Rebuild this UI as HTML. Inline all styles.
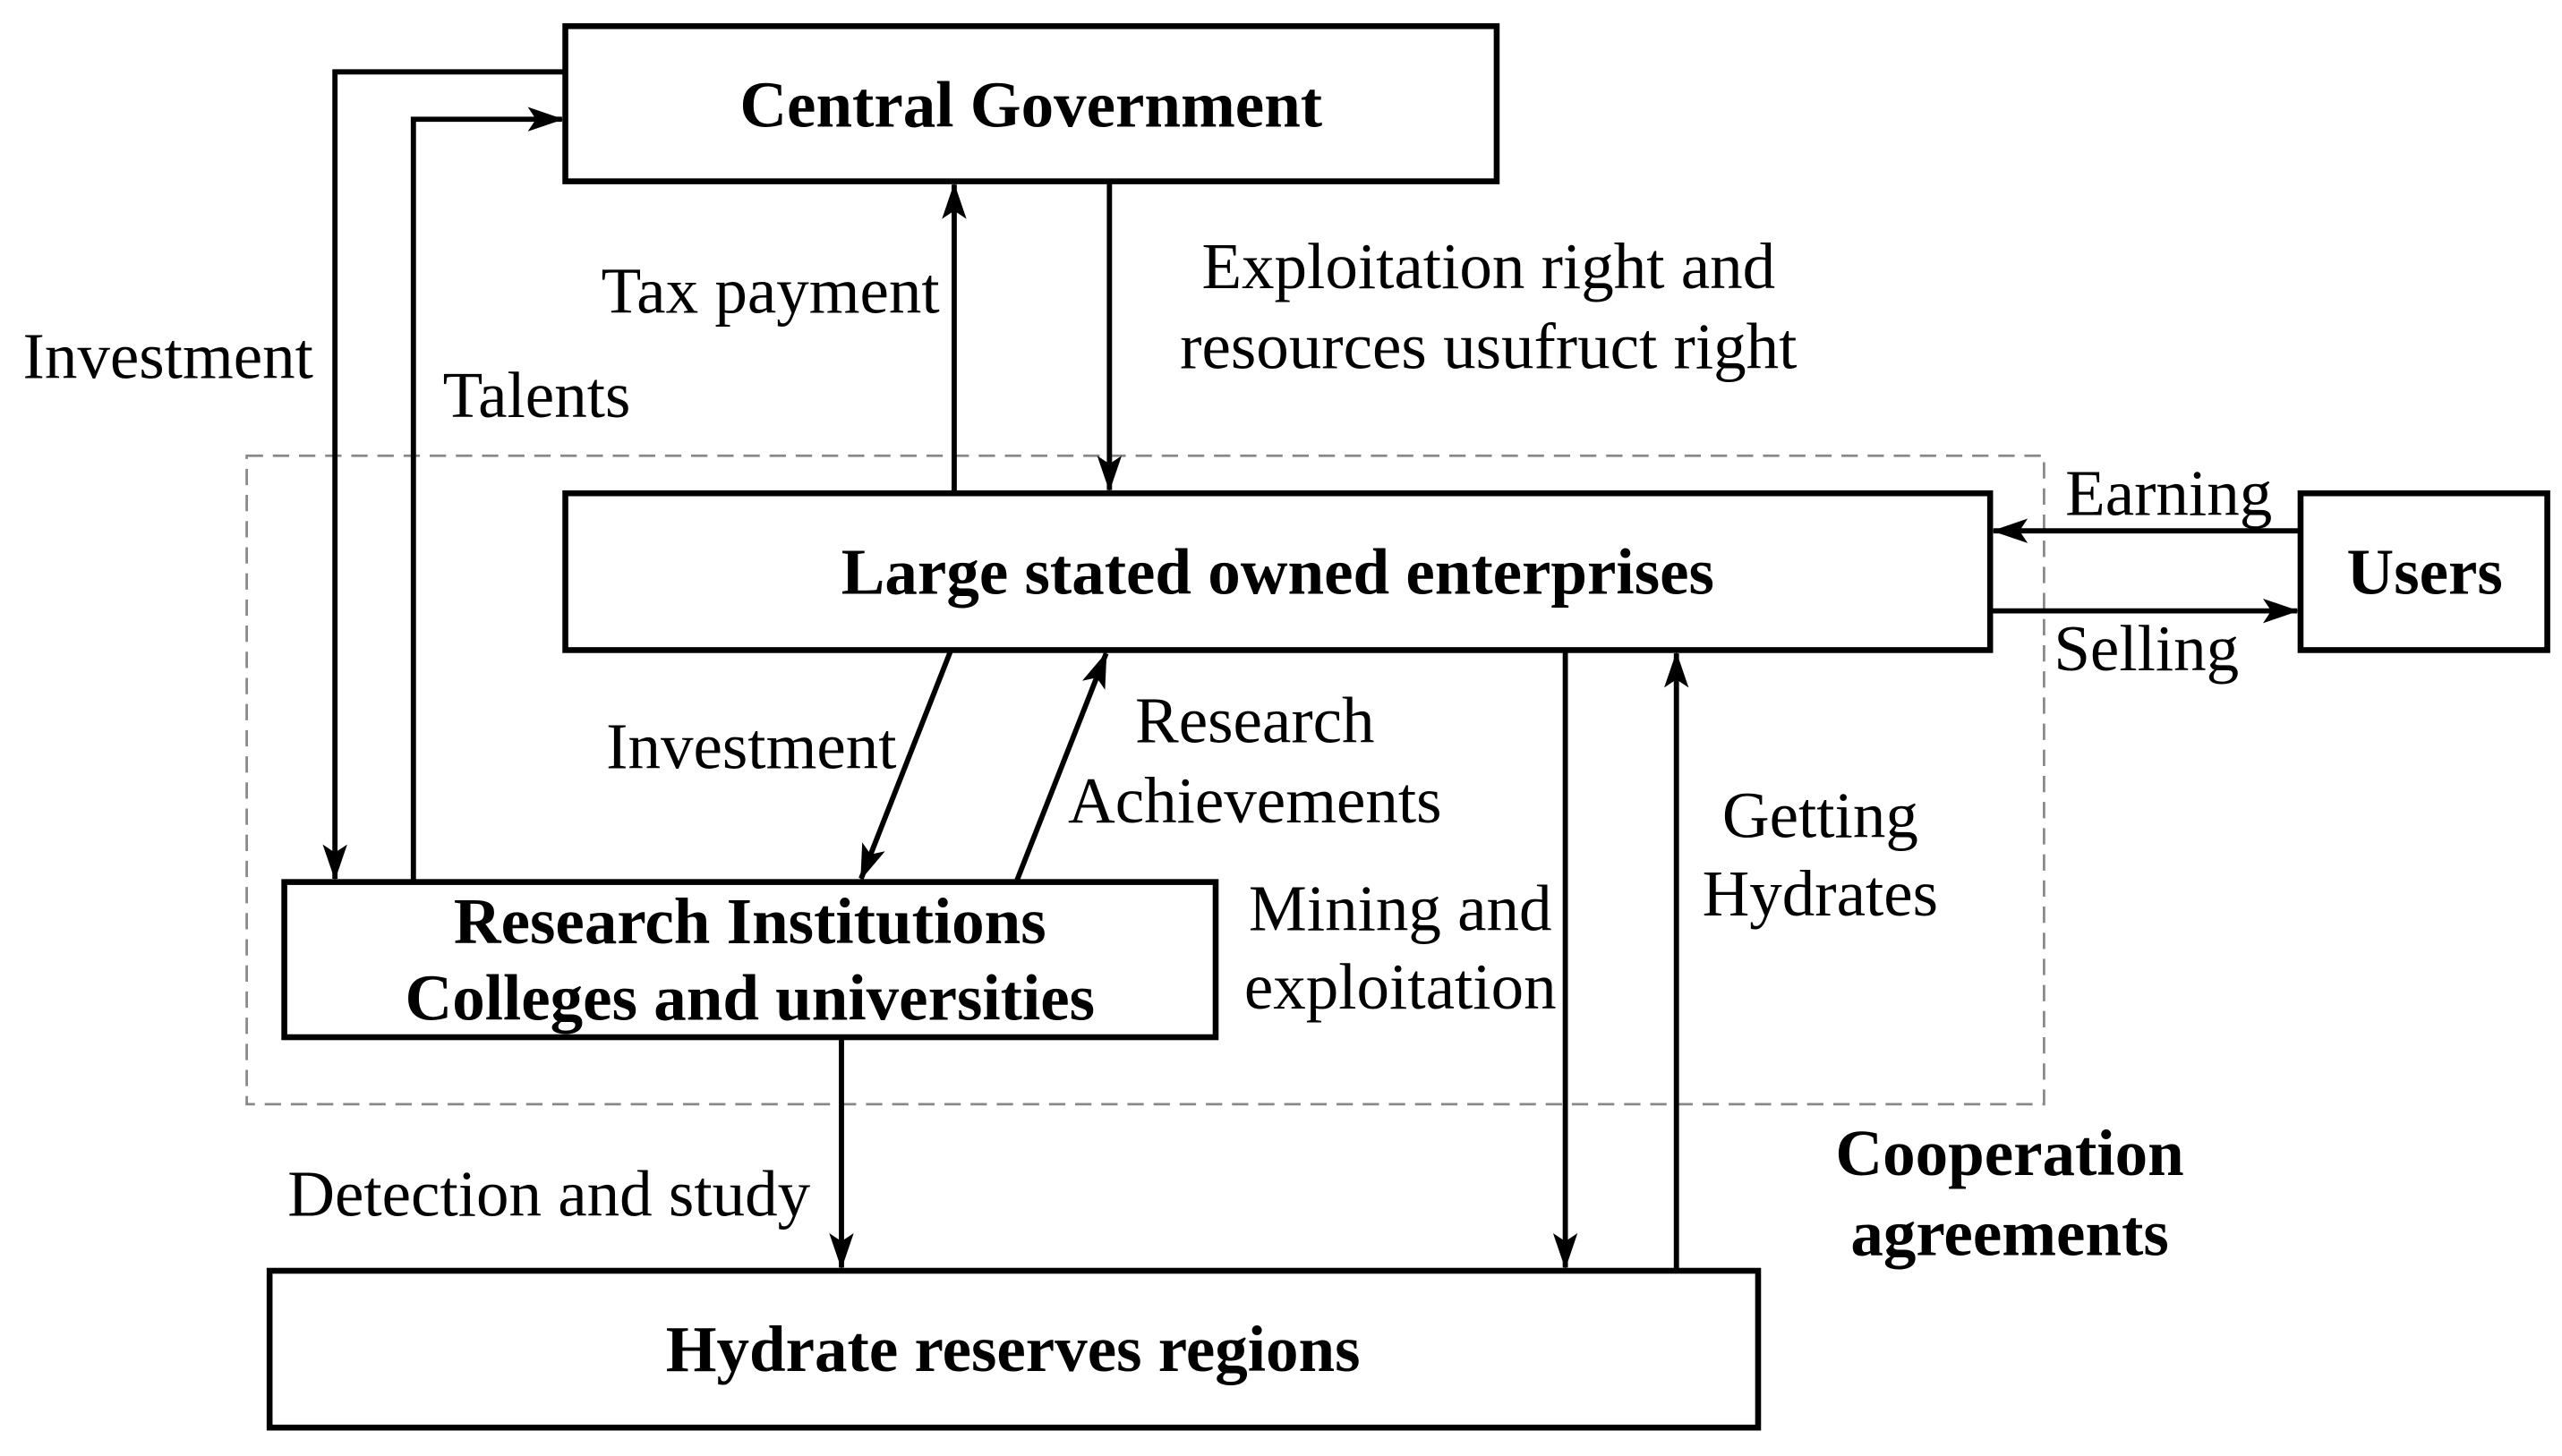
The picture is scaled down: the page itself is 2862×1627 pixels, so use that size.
<!DOCTYPE html>
<html><head><meta charset="utf-8"><style>html,body{margin:0;padding:0;background:#fff}svg{display:block}</style></head>
<body>
<svg width="2862" height="1627" viewBox="0 0 1568 891.4" preserveAspectRatio="none" xmlns="http://www.w3.org/2000/svg" font-family="'Liberation Serif', serif">
<defs>
<marker id="a" viewBox="-22 -8 24 16" refX="0" refY="0" markerWidth="24" markerHeight="16" markerUnits="userSpaceOnUse" orient="auto">
<path d="M-21,-7.5 L1,0 L-21,7.5 L-16,0 z" fill="#000"/>
</marker>
</defs>
<rect x="151" y="279" width="1100" height="397" fill="none" stroke="#888" stroke-width="1.5" stroke-dasharray="10,6"/>
<g fill="#fff" stroke="#000" stroke-width="3.6">
<rect x="346" y="16" width="570" height="95"/>
<rect x="346" y="302" width="872" height="96"/>
<rect x="1408" y="302" width="151" height="96"/>
<rect x="174" y="540" width="570" height="95"/>
<rect x="165" y="778" width="911" height="96"/>
</g>
<g fill="none" stroke="#000" stroke-width="3.2" marker-end="url(#a)">
<polyline points="346,44 205,44 205,538"/>
<polyline points="253,540 253,73 344,73"/>
<line x1="584" y1="302" x2="584" y2="113"/>
<line x1="679" y1="111" x2="679" y2="300"/>
<line x1="582" y1="398" x2="527" y2="538"/>
<line x1="622" y1="540" x2="677" y2="400"/>
<line x1="958" y1="398" x2="958" y2="776"/>
<line x1="1026" y1="778" x2="1026" y2="400"/>
<line x1="1408" y1="325" x2="1220" y2="325"/>
<line x1="1218" y1="374" x2="1406" y2="374"/>
<line x1="515" y1="635" x2="515" y2="776"/>
</g>
<g font-weight="bold" font-size="40" text-anchor="middle" dominant-baseline="central">
<text x="631" y="64">Central Government</text>
<text x="782" y="350">Large stated owned enterprises</text>
<text x="1484" y="350">Users</text>
<text x="459" y="564">Research Institutions</text>
<text x="459" y="611">Colleges and universities</text>
<text x="620" y="826">Hydrate reserves regions</text>
<text x="1230" y="706">Cooperation</text>
<text x="1230" y="755">agreements</text>
</g>
<g font-size="40" dominant-baseline="central">
<text x="14" y="218">Investment</text>
<text x="271" y="242">Talents</text>
<text x="368" y="178">Tax payment</text>
<text x="911" y="163" text-anchor="middle">Exploitation right and</text>
<text x="911" y="212" text-anchor="middle">resources usufruct right</text>
<text x="1264" y="302">Earning</text>
<text x="1257" y="397">Selling</text>
<text x="371" y="457">Investment</text>
<text x="768" y="441" text-anchor="middle">Research</text>
<text x="768" y="490" text-anchor="middle">Achievements</text>
<text x="857" y="556" text-anchor="middle">Mining and</text>
<text x="857" y="604" text-anchor="middle">exploitation</text>
<text x="1114" y="499" text-anchor="middle">Getting</text>
<text x="1114" y="547" text-anchor="middle">Hydrates</text>
<text x="176" y="731">Detection and study</text>
</g>
</svg>
</body></html>
